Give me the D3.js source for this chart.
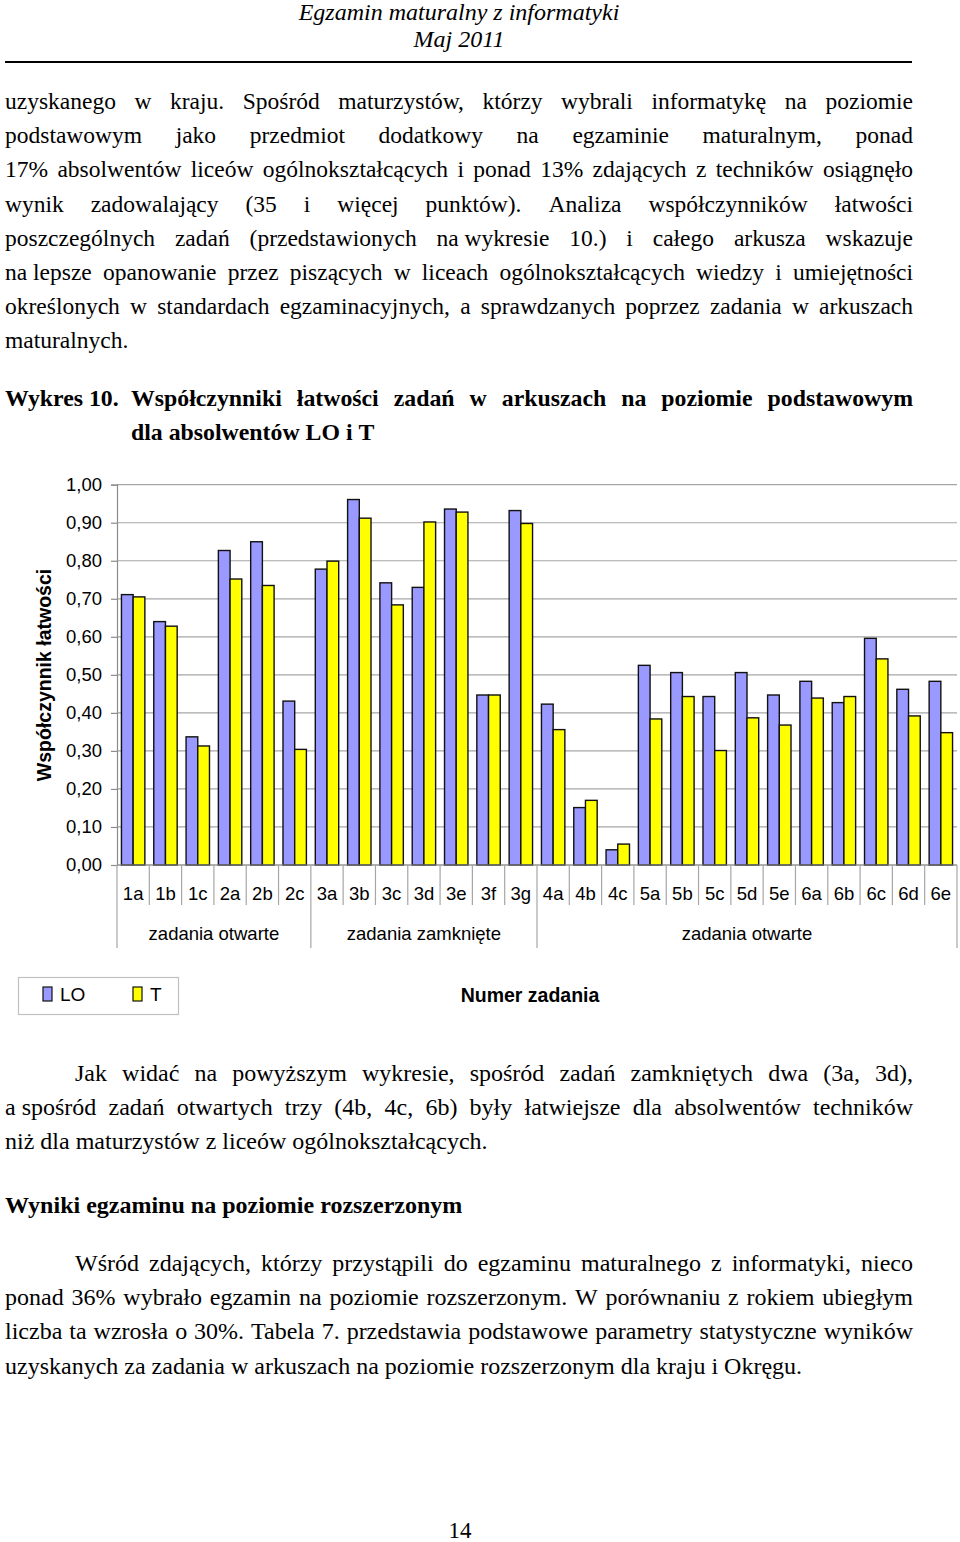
<!DOCTYPE html>
<html><head><meta charset="utf-8">
<script src="https://cdn.jsdelivr.net/npm/d3@7"></script>
<style>html,body{margin:0;padding:0;background:#fff;}svg{display:block;}</style>
</head><body>
<script>
// ---------- DATA ----------
const categories = ["1a","1b","1c","2a","2b","2c","3a","3b","3c","3d","3e","3f","3g","4a","4b","4c","5a","5b","5c","5d","5e","6a","6b","6c","6d","6e"];
const seriesNames = ["LO","T"];
const valuesLO = [0.711,0.640,0.337,0.827,0.850,0.431,0.778,0.961,0.742,0.730,0.936,0.447,0.932,0.423,0.151,0.040,0.525,0.506,0.443,0.506,0.447,0.483,0.427,0.596,0.462,0.483];
const valuesT  = [0.705,0.628,0.313,0.752,0.735,0.304,0.799,0.912,0.684,0.902,0.928,0.447,0.898,0.356,0.170,0.055,0.384,0.443,0.301,0.387,0.368,0.439,0.443,0.542,0.392,0.348];
const groupLabels = ["zadania otwarte","zadania zamknięte","zadania otwarte"];
const groupStarts = ["1a","3a","4a"];
const groupEnds   = ["2c","3g","6e"];
const yTicks = [0,0.1,0.2,0.3,0.4,0.5,0.6,0.7,0.8,0.9,1.0];
const yTitle = "Współczynnik łatwości";
const xTitle = "Numer zadania";

const W = 960, H = 1542;
const SERIF = "'Liberation Serif','Times New Roman',serif";
const SANS = "'Liberation Sans',Arial,sans-serif";
const BODY = 23.5;

const svg = d3.select("body").append("svg").attr("width", W).attr("height", H);
svg.append("rect").attr("width", W).attr("height", H).attr("fill", "#fff");

// ---------- text helpers ----------
function drawLine(words, x0, x1, y, opts) {
  opts = opts || {};
  const size = opts.size || BODY, weight = opts.weight || "normal", style = opts.style || "normal";
  const g = svg.append("g");
  const ts = words.map(w => g.append("text").text(w)
      .attr("font-family", SERIF).attr("font-size", size)
      .attr("font-weight", weight).attr("font-style", style).attr("fill", "#000"));
  const widths = ts.map(t => t.node().getComputedTextLength());
  const sumW = d3.sum(widths);
  const space = 0.25 * size;
  const n = words.length;
  const natural = sumW + (n - 1) * space;
  let scale = 1, gap = space;
  if (opts.justify && n > 1) {
    const target = x1 - x0;
    if (natural <= target) gap = (target - sumW) / (n - 1);
    else scale = target / natural;
  }
  let x = 0;
  ts.forEach((t, i) => { t.attr("x", x); x += widths[i] + gap; });
  g.attr("transform", `translate(${x0},${y}) scale(${scale},1)`);
}
function para(lines, y0, step, size) {
  lines.forEach((l, i) => drawLine(l.t.split(" "), l.x0, 913, y0 + i * step, {justify: l.j, weight: l.w, size: size}));
}

// ---------- header ----------
svg.append("text").attr("x", 459).attr("y", 20).attr("text-anchor", "middle")
  .attr("font-family", SERIF).attr("font-style", "italic").attr("font-size", 24).text("Egzamin maturalny z informatyki");
svg.append("text").attr("x", 459).attr("y", 47).attr("text-anchor", "middle")
  .attr("font-family", SERIF).attr("font-style", "italic").attr("font-size", 24).text("Maj 2011");
svg.append("line").attr("x1", 5).attr("x2", 912).attr("y1", 62).attr("y2", 62).attr("stroke", "#000").attr("stroke-width", 2);

// ---------- paragraph 1 ----------
para([
  {t: "uzyskanego w kraju. Spośród maturzystów, którzy wybrali informatykę na poziomie", x0: 5, j: true},
  {t: "podstawowym jako przedmiot dodatkowy na egzaminie maturalnym, ponad", x0: 5, j: true},
  {t: "17% absolwentów liceów ogólnokształcących i ponad 13% zdających z techników osiągnęło", x0: 5, j: true},
  {t: "wynik zadowalający (35 i więcej punktów). Analiza współczynników łatwości", x0: 5, j: true},
  {t: "poszczególnych zadań (przedstawionych na\u00a0wykresie 10.) i całego arkusza wskazuje", x0: 5, j: true},
  {t: "na\u00a0lepsze opanowanie przez piszących w liceach ogólnokształcących wiedzy i umiejętności", x0: 5, j: true},
  {t: "określonych w standardach egzaminacyjnych, a sprawdzanych poprzez zadania w arkuszach", x0: 5, j: true},
  {t: "maturalnych.", x0: 5, j: false}
], 109, 34.2, 23.5);

// ---------- figure caption ----------
drawLine(["Wykres 10."], 5, 913, 406, {weight: "bold", size: 23.8});
drawLine("Współczynniki łatwości zadań w arkuszach na poziomie podstawowym".split(" "), 131, 913, 406, {weight: "bold", justify: true, size: 23.8});
drawLine("dla absolwentów LO i T".split(" "), 131, 913, 440, {weight: "bold", size: 23.8});

// ---------- chart ----------
const plotL = 117, plotR = 957, plotT = 484.7, plotB = 865;
const y = d3.scaleLinear().domain([0, 1]).range([plotB, plotT]);
const x0 = d3.scaleBand().domain(categories).range([plotL, plotR]).padding(0);
const x1 = d3.scaleBand().domain(seriesNames).range([0, x0.bandwidth()]).paddingInner(0).paddingOuter(0.38);
const colors = d3.scaleOrdinal().domain(seriesNames).range(["#9999FF", "#FFFF00"]);
const fmt = v => d3.format(".2f")(v).replace(".", ",");

const chart = svg.append("g");
// gridlines
chart.append("g").selectAll("line").data(yTicks).join("line")
  .attr("x1", plotL).attr("x2", plotR).attr("y1", d => y(d)).attr("y2", d => y(d))
  .attr("stroke", "#a6a6a6").attr("stroke-width", 1.2);

// y axis
const yAxis = chart.append("g").attr("transform", `translate(${plotL},0)`)
  .call(d3.axisLeft(y).tickValues(yTicks).tickFormat(fmt).tickSize(6).tickPadding(9));
yAxis.select(".domain").attr("stroke", "#8c8c8c").attr("stroke-width", 1.2);
yAxis.selectAll(".tick line").attr("stroke", "#8c8c8c").attr("stroke-width", 1.2);
yAxis.selectAll(".tick text").attr("font-family", SANS).attr("font-size", 18.5).attr("fill", "#000");

// bars
const data = categories.map((c, i) => ({c, vals: [{s: "LO", v: valuesLO[i]}, {s: "T", v: valuesT[i]}]}));
chart.append("g").selectAll("g").data(data).join("g")
  .attr("transform", d => `translate(${x0(d.c)},0)`)
  .selectAll("rect").data(d => d.vals).join("rect")
  .attr("x", d => x1(d.s)).attr("width", x1.bandwidth())
  .attr("y", d => y(d.v)).attr("height", d => y(0) - y(d.v))
  .attr("fill", d => colors(d.s)).attr("stroke", "#111").attr("stroke-width", 1.4);

// x axis (baseline)
chart.append("line").attr("x1", plotL).attr("x2", plotR).attr("y1", plotB).attr("y2", plotB)
  .attr("stroke", "#8c8c8c").attr("stroke-width", 1.2);

// category ticks & labels
const bounds = categories.map(c => x0(c)).concat([plotR]);
chart.append("g").selectAll("line").data(bounds).join("line")
  .attr("x1", d => d).attr("x2", d => d).attr("y1", plotB).attr("y2", plotB + 40)
  .attr("stroke", "#a6a6a6").attr("stroke-width", 1.2);
chart.append("g").selectAll("text").data(categories).join("text")
  .attr("x", d => x0(d) + x0.bandwidth() / 2).attr("y", 900)
  .attr("text-anchor", "middle").attr("font-family", SANS).attr("font-size", 18.5).text(d => d);

// group separators & labels
const gData = groupLabels.map((l, i) => ({l, a: x0(groupStarts[i]), b: x0(groupEnds[i]) + x0.bandwidth()}));
const gBounds = [gData[0].a].concat(gData.map(d => d.b));
chart.append("g").selectAll("line").data(gBounds).join("line")
  .attr("x1", d => d).attr("x2", d => d).attr("y1", plotB + 40).attr("y2", 948)
  .attr("stroke", "#a6a6a6").attr("stroke-width", 1.2);
chart.append("g").selectAll("text").data(gData).join("text")
  .attr("x", d => (d.a + d.b) / 2).attr("y", 940)
  .attr("text-anchor", "middle").attr("font-family", SANS).attr("font-size", 18.5).text(d => d.l);

// y title
chart.append("text").attr("transform", "translate(51,675) rotate(-90)")
  .attr("text-anchor", "middle").attr("font-family", SANS).attr("font-weight", "bold")
  .attr("font-size", 19.5).text(yTitle);

// x title
chart.append("text").attr("x", 530).attr("y", 1002).attr("text-anchor", "middle")
  .attr("font-family", SANS).attr("font-weight", "bold").attr("font-size", 19.5).text(xTitle);

// legend
const leg = chart.append("g");
leg.append("rect").attr("x", 18.5).attr("y", 977.5).attr("width", 160).attr("height", 37)
  .attr("fill", "#fff").attr("stroke", "#c0c0c0").attr("stroke-width", 1.2);
const legX = [43, 133];
seriesNames.forEach((s, i) => {
  leg.append("rect").attr("x", legX[i]).attr("y", 987).attr("width", 9).attr("height", 14)
    .attr("fill", colors(s)).attr("stroke", "#111").attr("stroke-width", 1.2);
  leg.append("text").attr("x", legX[i] + 17).attr("y", 1001).attr("font-family", SANS)
    .attr("font-size", 19).text(s);
});

// ---------- lower text ----------
para([
  {t: "Jak widać na powyższym wykresie, spośród zadań zamkniętych dwa (3a, 3d),", x0: 75, j: true},
  {t: "a\u00a0spośród zadań otwartych trzy (4b, 4c, 6b) były łatwiejsze dla absolwentów techników", x0: 5, j: true},
  {t: "niż dla maturzystów z liceów ogólnokształcących.", x0: 5, j: false}
], 1081, 34.2, 24);
drawLine("Wyniki egzaminu na poziomie rozszerzonym".split(" "), 5, 913, 1213, {weight: "bold", size: 24});
para([
  {t: "Wśród zdających, którzy przystąpili do egzaminu maturalnego z informatyki, nieco", x0: 75, j: true},
  {t: "ponad 36% wybrało egzamin na poziomie rozszerzonym. W porównaniu z rokiem ubiegłym", x0: 5, j: true},
  {t: "liczba ta wzrosła o 30%. Tabela 7. przedstawia podstawowe parametry statystyczne wyników", x0: 5, j: true},
  {t: "uzyskanych za zadania w arkuszach na poziomie rozszerzonym dla kraju i Okręgu.", x0: 5, j: false}
], 1271, 34.2, 24);

svg.append("text").attr("x", 460).attr("y", 1538).attr("text-anchor", "middle")
  .attr("font-family", SERIF).attr("font-size", 23).text("14");
</script>
</body></html>
